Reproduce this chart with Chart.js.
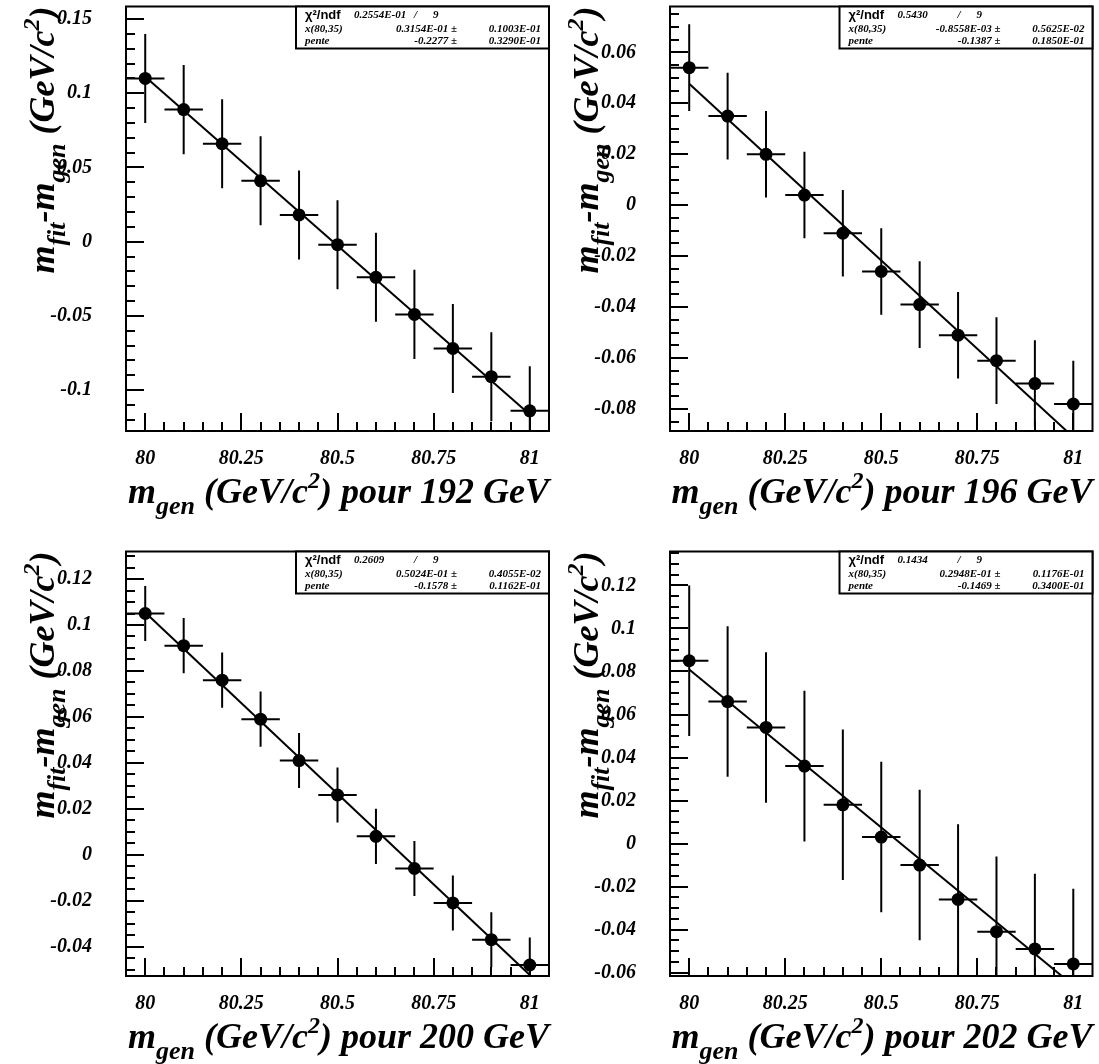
<!DOCTYPE html>
<html>
<head>
<meta charset="utf-8">
<script src="https://cdn.jsdelivr.net/npm/chart.js@4.4.1/dist/chart.umd.min.js"></script>
<style>
html, body { margin: 0; padding: 0; background: #fff; }
body { width: 1099px; height: 1064px; position: relative; overflow: hidden; }
canvas { position: absolute; }
</style>
</head>
<body>
<canvas id="c192"></canvas>
<canvas id="c196"></canvas>
<canvas id="c200"></canvas>
<canvas id="c202"></canvas>
<script>
// generated mass points (GeV/c2), one per bin of 0.1
const mGen = [80, 80.1, 80.2, 80.3, 80.4, 80.5, 80.6, 80.7, 80.8, 80.9, 81];
const xErr = 0.05;
const xTickValues = [80, 80.25, 80.5, 80.75, 81];
const xTickLabels = ['80', '80.25', '80.5', '80.75', '81'];

// m_fit - m_gen (GeV/c2) and errors, per centre-of-mass energy
const dm192 = [0.110, 0.089, 0.066, 0.041, 0.018, -0.002, -0.024, -0.049, -0.072, -0.091, -0.114];
const err192 = [0.030, 0.030, 0.030, 0.030, 0.030, 0.030, 0.030, 0.030, 0.030, 0.030, 0.030];
const dm196 = [0.054, 0.035, 0.020, 0.004, -0.011, -0.026, -0.039, -0.051, -0.061, -0.070, -0.078];
const err196 = [0.017, 0.017, 0.017, 0.017, 0.017, 0.017, 0.017, 0.017, 0.017, 0.017, 0.017];
const dm200 = [0.105, 0.091, 0.076, 0.059, 0.041, 0.026, 0.008, -0.006, -0.021, -0.037, -0.048];
const err200 = [0.012, 0.012, 0.012, 0.012, 0.012, 0.012, 0.012, 0.012, 0.012, 0.012, 0.012];
const dm202 = [0.085, 0.066, 0.054, 0.036, 0.018, 0.003, -0.010, -0.026, -0.041, -0.049, -0.056];
const err202 = [0.035, 0.035, 0.035, 0.035, 0.035, 0.035, 0.035, 0.035, 0.035, 0.035, 0.035];

// y tick labels per panel
const yTicks192 = [-0.1, -0.05, 0, 0.05, 0.1, 0.15];
const yTicks196 = [-0.08, -0.06, -0.04, -0.02, 0, 0.02, 0.04, 0.06];
const yTicks200 = [-0.04, -0.02, 0, 0.02, 0.04, 0.06, 0.08, 0.1, 0.12];
const yTicks202 = [-0.06, -0.04, -0.02, 0, 0.02, 0.04, 0.06, 0.08, 0.1, 0.12];

// linear fit: y = x(80,35) + pente * (m - 80.35)
const fitPivot = 80.35;
const fitP0 = [0.03154, -0.8558e-3, 0.05024, 0.02948];
const fitP1 = [-0.2277, -0.1387, -0.1578, -0.1469];
const chi2Text = ['0.2554E-01', '0.5430', '0.2609', '0.1434'];
const ndfText = ['9', '9', '9', '9'];
const p0Text = ['0.3154E-01', '-0.8558E-03', '0.5024E-01', '0.2948E-01'];
const p0ErrText = ['0.1003E-01', '0.5625E-02', '0.4055E-02', '0.1176E-01'];
const p1Text = ['-0.2277', '-0.1387', '-0.1578', '-0.1469'];
const p1ErrText = ['0.3290E-01', '0.1850E-01', '0.1162E-01', '0.3400E-01'];
const energies = ['192', '196', '200', '202'];

const serif = "'Liberation Serif', 'Times New Roman', serif";
const sans = "'Liberation Sans', Arial, sans-serif";

const panels = [
    { id: 'c192', left: 0, top: 0, w: 560, h: 545, frame: { l: 126, r: 549, t: 6, b: 431 },
      yMin: -0.1276, yMax: 0.1585, yMinor: 0.01, y: dm192, err: err192, yTicks: yTicks192 },
    { id: 'c196', left: 560, top: 0, w: 539, h: 545, frame: { l: 110, r: 536, t: 6, b: 431 },
      yMin: -0.0886, yMax: 0.078, yMinor: 0.005, y: dm196, err: err196, yTicks: yTicks196 },
    { id: 'c200', left: 0, top: 545, w: 560, h: 519, frame: { l: 126, r: 549, t: 6, b: 431 },
      yMin: -0.0528, yMax: 0.132, yMinor: 0.005, y: dm200, err: err200, yTicks: yTicks200 },
    { id: 'c202', left: 560, top: 545, w: 539, h: 519, frame: { l: 110, r: 536, t: 6, b: 431 },
      yMin: -0.0616, yMax: 0.1358, yMinor: 0.005, y: dm202, err: err202, yTicks: yTicks202 }
];

function fmtTick(v) {
    return String(+v.toFixed(4));
}

// draws text made of normal / subscript / superscript pieces, right-aligned at x
function drawRich(ctx, parts, x, y) {
    const sizes = { n: 36, sub: 26, sup: 24 };
    const shift = { n: 0, sub: 11, sup: -15 };
    let total = 0;
    parts.forEach(p => {
        ctx.font = `italic bold ${sizes[p[1]]}px ${serif}`;
        total += ctx.measureText(p[0]).width;
    });
    let cx = x - total;
    ctx.textAlign = 'left';
    ctx.textBaseline = 'alphabetic';
    parts.forEach(p => {
        ctx.font = `italic bold ${sizes[p[1]]}px ${serif}`;
        ctx.fillText(p[0], cx, y + shift[p[1]]);
        cx += ctx.measureText(p[0]).width;
    });
}

function minorValues(min, max, step) {
    const out = [];
    for (let k = Math.ceil(min / step - 1e-9); k * step <= max + 1e-9; k++) {
        out.push(k * step);
    }
    return out;
}

function makePanel(cfg, n) {
    const cv = document.getElementById(cfg.id);
    cv.width = cfg.w;
    cv.height = cfg.h;
    cv.style.left = cfg.left + 'px';
    cv.style.top = cfg.top + 'px';
    const fr = cfg.frame;
    const fitY = x => fitP0[n] + fitP1[n] * (x - fitPivot);
    const tickFont = { family: serif, size: 20, style: 'italic', weight: 'bold' };

    const rootStyle = {
        id: 'rootStyle',
        beforeDatasetsDraw(chart) {
            const ctx = chart.ctx, a = chart.chartArea;
            const xs = chart.scales.x, ys = chart.scales.y;
            ctx.save();
            ctx.beginPath();
            ctx.rect(a.left, a.top, a.right - a.left, a.bottom - a.top);
            ctx.clip();
            ctx.strokeStyle = '#000';
            ctx.lineWidth = 2;
            mGen.forEach((xv, i) => {
                const px = xs.getPixelForValue(xv);
                const py = ys.getPixelForValue(cfg.y[i]);
                ctx.beginPath();
                ctx.moveTo(xs.getPixelForValue(xv - xErr), py);
                ctx.lineTo(xs.getPixelForValue(xv + xErr), py);
                ctx.moveTo(px, ys.getPixelForValue(cfg.y[i] + cfg.err[i]));
                ctx.lineTo(px, ys.getPixelForValue(cfg.y[i] - cfg.err[i]));
                ctx.stroke();
            });
            ctx.restore();
        },
        afterDatasetsDraw(chart) {
            const ctx = chart.ctx, a = chart.chartArea;
            const xs = chart.scales.x, ys = chart.scales.y;
            ctx.save();
            ctx.strokeStyle = '#000';
            ctx.lineWidth = 2;
            // ticks inside the frame
            ctx.beginPath();
            minorValues(79.95, 81.05, 0.05).forEach(v => {
                const px = Math.round(xs.getPixelForValue(v));
                if (px <= a.left + 1 || px >= a.right - 1) return;
                const major = xTickValues.some(t => Math.abs(t - v) < 1e-6);
                ctx.moveTo(px, a.bottom);
                ctx.lineTo(px, a.bottom - (major ? 18 : 9));
            });
            minorValues(cfg.yMin, cfg.yMax, cfg.yMinor).forEach(v => {
                const py = Math.round(ys.getPixelForValue(v));
                if (py <= a.top + 1 || py >= a.bottom - 1) return;
                const major = cfg.yTicks.some(t => Math.abs(t - v) < 1e-6);
                ctx.moveTo(a.left, py);
                ctx.lineTo(a.left + (major ? 18 : 9), py);
            });
            ctx.stroke();
            // frame
            ctx.strokeRect(a.left, a.top, a.right - a.left, a.bottom - a.top);

            // stats box
            const bw = 253, bh = 42;
            const bx = a.right - bw, by = a.top;
            ctx.fillStyle = '#fff';
            ctx.fillRect(bx, by, bw, bh);
            ctx.strokeRect(bx, by, bw, bh);
            ctx.fillStyle = '#000';
            ctx.textBaseline = 'middle';
            const r1 = by + 9, r2 = by + 23, r3 = by + 35;
            ctx.textAlign = 'left';
            ctx.font = `bold 13px ${sans}`;
            ctx.fillText('\u03c7\u00b2/ndf', bx + 9, r1);
            ctx.font = `italic bold 11px ${serif}`;
            ctx.fillText(chi2Text[n], bx + 58, r1);
            const slashX = Math.max(bx + 118, bx + 58 + ctx.measureText(chi2Text[n]).width + 1);
            ctx.fillText('/', slashX, r1);
            ctx.fillText(ndfText[n], bx + 137, r1);
            ctx.fillText('x(80,35)', bx + 9, r2);
            ctx.fillText('pente', bx + 9, r3);
            ctx.textAlign = 'right';
            ctx.fillText(p0Text[n] + ' \u00b1', bx + 161, r2);
            ctx.fillText(p1Text[n] + ' \u00b1', bx + 161, r3);
            ctx.fillText(p0ErrText[n], bx + 245, r2);
            ctx.fillText(p1ErrText[n], bx + 245, r3);
            ctx.restore();
        },
        afterDraw(chart) {
            const ctx = chart.ctx, a = chart.chartArea;
            ctx.save();
            ctx.fillStyle = '#000';
            drawRich(ctx, [['m', 'n'], ['gen', 'sub'], [' (GeV/c', 'n'], ['2', 'sup'],
                [') pour ' + energies[n] + ' GeV', 'n']], a.right, 503);
            ctx.translate(a.left - 72, a.top);
            ctx.rotate(-Math.PI / 2);
            drawRich(ctx, [['m', 'n'], ['fit', 'sub'], ['-m', 'n'], ['gen', 'sub'],
                [' (GeV/c', 'n'], ['2', 'sup'], [')', 'n']], 0, 0);
            ctx.restore();
        }
    };

    return new Chart(cv, {
        type: 'scatter',
        data: {
            datasets: [
                {
                    type: 'line',
                    data: [{ x: mGen[0], y: fitY(mGen[0]) }, { x: mGen[mGen.length - 1], y: fitY(mGen[mGen.length - 1]) }],
                    borderColor: '#000',
                    borderWidth: 2,
                    pointRadius: 0,
                    fill: false
                },
                {
                    data: mGen.map((x, i) => ({ x: x, y: cfg.y[i] })),
                    pointRadius: 6.5,
                    backgroundColor: '#000',
                    borderColor: '#000',
                    borderWidth: 0
                }
            ]
        },
        options: {
            responsive: false,
            animation: false,
            devicePixelRatio: 1,
            layout: { padding: { left: 0, top: fr.t, right: cfg.w - fr.r, bottom: 0 } },
            plugins: { legend: { display: false }, tooltip: { enabled: false } },
            scales: {
                x: {
                    type: 'linear',
                    min: 79.95,
                    max: 81.05,
                    grid: { display: false },
                    border: { display: false },
                    afterBuildTicks: s => { s.ticks = xTickValues.map(v => ({ value: v })); },
                    afterFit: s => {
                        s.height = cfg.h - fr.b;
                        s.paddingLeft = 0;
                        s.paddingRight = 0;
                    },
                    ticks: {
                        autoSkip: false,
                        maxRotation: 0,
                        padding: 8,
                        font: tickFont,
                        color: '#000',
                        callback: (v, i) => xTickLabels[i]
                    }
                },
                y: {
                    type: 'linear',
                    min: cfg.yMin,
                    max: cfg.yMax,
                    grid: { display: false },
                    border: { display: false },
                    afterBuildTicks: s => { s.ticks = cfg.yTicks.map(v => ({ value: v })); },
                    afterFit: s => {
                        s.width = fr.l;
                        s.paddingTop = 0;
                        s.paddingBottom = 0;
                    },
                    ticks: {
                        autoSkip: false,
                        padding: 26,
                        font: tickFont,
                        color: '#000',
                        callback: (v, i) => fmtTick(cfg.yTicks[i])
                    }
                }
            }
        },
        plugins: [rootStyle]
    });
}

panels.forEach((p, i) => makePanel(p, i));
</script>
</body>
</html>
